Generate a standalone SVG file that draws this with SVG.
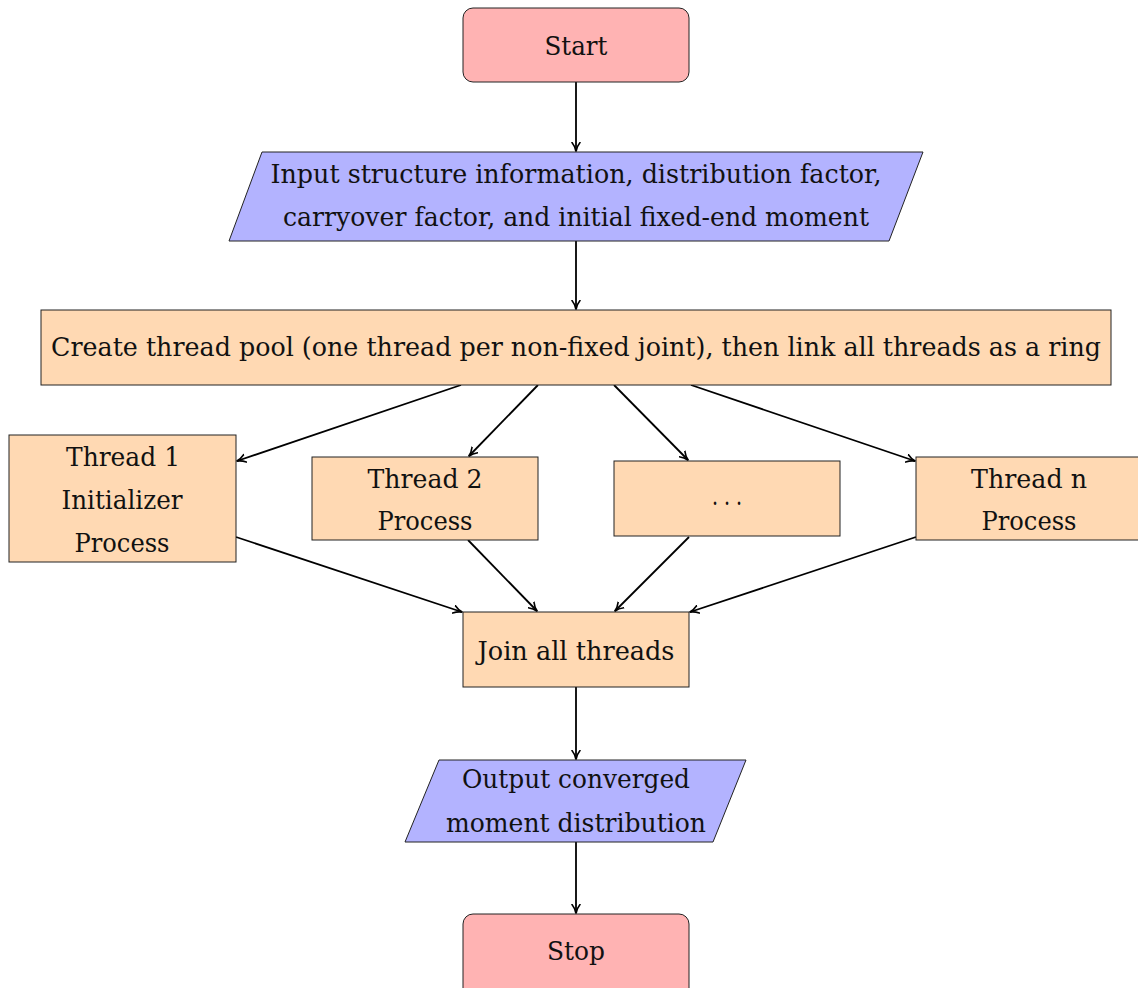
<svg xmlns="http://www.w3.org/2000/svg" width="1138" height="988" viewBox="0 0 1138 988">
  <style>
    .term { fill: #FFB3B3; stroke: #222; stroke-width: 1; }
    .io { fill: #B3B3FF; stroke: #222; stroke-width: 1; }
    .proc { fill: #FFD9B3; stroke: #222; stroke-width: 1; }
    .lbl { font-family: "DejaVu Serif", "Liberation Serif", serif; font-size: 26px; fill: #111; text-anchor: middle; dominant-baseline: central; }
    .edge { stroke: #000; stroke-width: 1.8; fill: none; marker-end: url(#arrow); }
  </style>
  <defs>
    <marker id="arrow" viewBox="0 0 10 10" refX="9" refY="5" markerWidth="10" markerHeight="10" markerUnits="userSpaceOnUse" orient="auto">
      <path d="M0.5,1 Q4.5,4.2 9.5,5 Q4.5,5.8 0.5,9" fill="none" stroke="#000" stroke-width="1.6" stroke-linecap="round"/>
    </marker>
  </defs>
  <rect width="1138" height="988" fill="#fff"/>

  <g id="connectors">
    <line class="edge" x1="576" y1="82" x2="576" y2="151"/>
    <line class="edge" x1="576" y1="241" x2="576" y2="309"/>
    <line class="edge" x1="461" y1="385" x2="237" y2="461"/>
    <line class="edge" x1="538" y1="385" x2="469" y2="456"/>
    <line class="edge" x1="614" y1="385" x2="688" y2="460"/>
    <line class="edge" x1="691" y1="385" x2="915" y2="461"/>
    <line class="edge" x1="236" y1="537" x2="462" y2="612"/>
    <line class="edge" x1="468" y1="540" x2="537" y2="611"/>
    <line class="edge" x1="689" y1="537" x2="615" y2="611"/>
    <line class="edge" x1="916" y1="537" x2="690" y2="612"/>
    <line class="edge" x1="576" y1="687" x2="576" y2="759"/>
    <line class="edge" x1="576" y1="842" x2="576" y2="913"/>
  </g>

  <g id="start">
    <rect class="term" x="463" y="8" width="226" height="74" rx="10"/>
    <text class="lbl" x="576" y="46" textLength="63" lengthAdjust="spacingAndGlyphs">Start</text>
  </g>

  <g id="input">
    <polygon class="io" points="262,152 923,152 889,241 229,241"/>
    <text class="lbl" x="576" y="174" textLength="611" lengthAdjust="spacingAndGlyphs">Input structure information, distribution factor,</text>
    <text class="lbl" x="576" y="217" textLength="586" lengthAdjust="spacingAndGlyphs">carryover factor, and initial fixed-end moment</text>
  </g>

  <g id="pool">
    <rect class="proc" x="41" y="310" width="1070" height="75"/>
    <text class="lbl" x="576" y="347" textLength="1050" lengthAdjust="spacingAndGlyphs">Create thread pool (one thread per non-fixed joint), then link all threads as a ring</text>
  </g>

  <g id="thread1">
    <rect class="proc" x="9" y="435" width="227" height="127"/>
    <text class="lbl" x="123" y="457" textLength="114" lengthAdjust="spacingAndGlyphs">Thread 1</text>
    <text class="lbl" x="122" y="500" textLength="121" lengthAdjust="spacingAndGlyphs">Initializer</text>
    <text class="lbl" x="122" y="543" textLength="95" lengthAdjust="spacingAndGlyphs">Process</text>
  </g>

  <g id="thread2">
    <rect class="proc" x="312" y="457" width="226" height="83"/>
    <text class="lbl" x="425" y="479" textLength="115" lengthAdjust="spacingAndGlyphs">Thread 2</text>
    <text class="lbl" x="425" y="521" textLength="95" lengthAdjust="spacingAndGlyphs">Process</text>
  </g>

  <g id="ellipsis">
    <rect class="proc" x="614" y="461" width="226" height="75"/>
    <text class="lbl" x="727" y="496" textLength="30" lengthAdjust="spacingAndGlyphs">. . .</text>
  </g>

  <g id="threadn">
    <rect class="proc" x="916" y="457" width="226" height="83"/>
    <text class="lbl" x="1029" y="479" textLength="116" lengthAdjust="spacingAndGlyphs">Thread n</text>
    <text class="lbl" x="1029" y="521" textLength="95" lengthAdjust="spacingAndGlyphs">Process</text>
  </g>

  <g id="join">
    <rect class="proc" x="463" y="612" width="226" height="75"/>
    <text class="lbl" x="576" y="651" textLength="197" lengthAdjust="spacingAndGlyphs">Join all threads</text>
  </g>

  <g id="output">
    <polygon class="io" points="439,760 746,760 713,842 405,842"/>
    <text class="lbl" x="576" y="779" textLength="228" lengthAdjust="spacingAndGlyphs">Output converged</text>
    <text class="lbl" x="576" y="823" textLength="260" lengthAdjust="spacingAndGlyphs">moment distribution</text>
  </g>

  <g id="stop">
    <rect class="term" x="463" y="914" width="226" height="84" rx="10"/>
    <text class="lbl" x="576" y="951" textLength="58" lengthAdjust="spacingAndGlyphs">Stop</text>
  </g>
</svg>
